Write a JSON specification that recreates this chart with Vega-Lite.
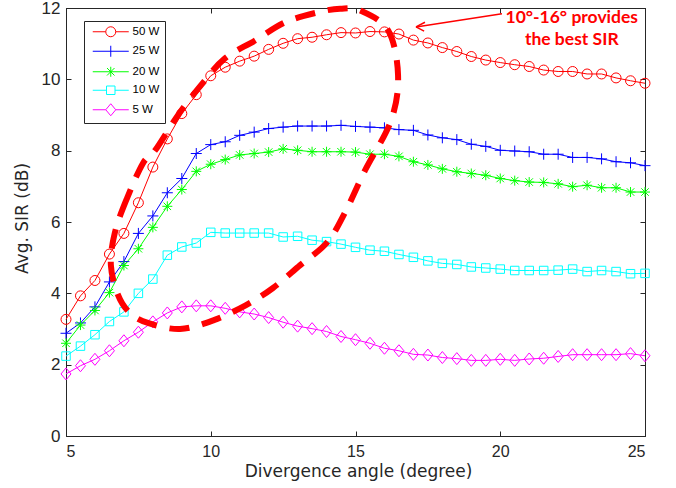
{
  "$schema": "https://vega.github.io/schema/vega-lite/v6.json",
  "width": 579,
  "height": 428,
  "autosize": "none",
  "padding": {"left": 66, "top": 8, "right": 31, "bottom": 52},
  "background": "white",
  "datasets": {
    "sir": [
      {"a": 5, "50 W": 3.27, "25 W": 2.88, "20 W": 2.60, "10 W": 2.24, "5 W": 1.74},
      {"a": 5.5, "50 W": 3.93, "25 W": 3.17, "20 W": 3.11, "10 W": 2.52, "5 W": 1.97},
      {"a": 6, "50 W": 4.36, "25 W": 3.62, "20 W": 3.52, "10 W": 2.84, "5 W": 2.15},
      {"a": 6.5, "50 W": 5.10, "25 W": 4.32, "20 W": 4.02, "10 W": 3.21, "5 W": 2.39},
      {"a": 7, "50 W": 5.68, "25 W": 4.89, "20 W": 4.78, "10 W": 3.48, "5 W": 2.67},
      {"a": 7.5, "50 W": 6.54, "25 W": 5.68, "20 W": 5.25, "10 W": 4.00, "5 W": 2.91},
      {"a": 8, "50 W": 7.54, "25 W": 6.17, "20 W": 5.85, "10 W": 4.40, "5 W": 3.20},
      {"a": 8.5, "50 W": 8.33, "25 W": 6.82, "20 W": 6.44, "10 W": 5.07, "5 W": 3.45},
      {"a": 9, "50 W": 9.04, "25 W": 7.22, "20 W": 6.91, "10 W": 5.30, "5 W": 3.62},
      {"a": 9.5, "50 W": 9.57, "25 W": 7.92, "20 W": 7.42, "10 W": 5.41, "5 W": 3.65},
      {"a": 10, "50 W": 10.10, "25 W": 8.17, "20 W": 7.62, "10 W": 5.71, "5 W": 3.65},
      {"a": 10.5, "50 W": 10.34, "25 W": 8.25, "20 W": 7.75, "10 W": 5.69, "5 W": 3.58},
      {"a": 11, "50 W": 10.51, "25 W": 8.43, "20 W": 7.88, "10 W": 5.69, "5 W": 3.48},
      {"a": 11.5, "50 W": 10.65, "25 W": 8.52, "20 W": 7.92, "10 W": 5.69, "5 W": 3.42},
      {"a": 12, "50 W": 10.84, "25 W": 8.62, "20 W": 7.96, "10 W": 5.69, "5 W": 3.32},
      {"a": 12.5, "50 W": 11.01, "25 W": 8.66, "20 W": 8.05, "10 W": 5.58, "5 W": 3.19},
      {"a": 13, "50 W": 11.14, "25 W": 8.69, "20 W": 8.01, "10 W": 5.60, "5 W": 3.08},
      {"a": 13.5, "50 W": 11.18, "25 W": 8.69, "20 W": 7.97, "10 W": 5.49, "5 W": 3.01},
      {"a": 14, "50 W": 11.25, "25 W": 8.69, "20 W": 7.97, "10 W": 5.45, "5 W": 2.93},
      {"a": 14.5, "50 W": 11.31, "25 W": 8.71, "20 W": 7.97, "10 W": 5.38, "5 W": 2.79},
      {"a": 15, "50 W": 11.30, "25 W": 8.68, "20 W": 7.96, "10 W": 5.29, "5 W": 2.70},
      {"a": 15.5, "50 W": 11.34, "25 W": 8.66, "20 W": 7.90, "10 W": 5.21, "5 W": 2.60},
      {"a": 16, "50 W": 11.33, "25 W": 8.64, "20 W": 7.90, "10 W": 5.18, "5 W": 2.46},
      {"a": 16.5, "50 W": 11.27, "25 W": 8.59, "20 W": 7.84, "10 W": 5.09, "5 W": 2.39},
      {"a": 17, "50 W": 11.10, "25 W": 8.57, "20 W": 7.69, "10 W": 5.01, "5 W": 2.29},
      {"a": 17.5, "50 W": 11.02, "25 W": 8.44, "20 W": 7.60, "10 W": 4.91, "5 W": 2.27},
      {"a": 18, "50 W": 10.89, "25 W": 8.36, "20 W": 7.49, "10 W": 4.84, "5 W": 2.20},
      {"a": 18.5, "50 W": 10.78, "25 W": 8.31, "20 W": 7.41, "10 W": 4.81, "5 W": 2.17},
      {"a": 19, "50 W": 10.64, "25 W": 8.18, "20 W": 7.36, "10 W": 4.74, "5 W": 2.12},
      {"a": 19.5, "50 W": 10.54, "25 W": 8.12, "20 W": 7.31, "10 W": 4.71, "5 W": 2.12},
      {"a": 20, "50 W": 10.47, "25 W": 8.01, "20 W": 7.22, "10 W": 4.68, "5 W": 2.15},
      {"a": 20.5, "50 W": 10.41, "25 W": 7.99, "20 W": 7.16, "10 W": 4.64, "5 W": 2.12},
      {"a": 21, "50 W": 10.36, "25 W": 7.97, "20 W": 7.12, "10 W": 4.64, "5 W": 2.16},
      {"a": 21.5, "50 W": 10.26, "25 W": 7.90, "20 W": 7.11, "10 W": 4.64, "5 W": 2.18},
      {"a": 22, "50 W": 10.22, "25 W": 7.90, "20 W": 7.07, "10 W": 4.65, "5 W": 2.23},
      {"a": 22.5, "50 W": 10.22, "25 W": 7.81, "20 W": 6.99, "10 W": 4.68, "5 W": 2.28},
      {"a": 23, "50 W": 10.15, "25 W": 7.81, "20 W": 7.03, "10 W": 4.61, "5 W": 2.28},
      {"a": 23.5, "50 W": 10.15, "25 W": 7.77, "20 W": 6.96, "10 W": 4.64, "5 W": 2.28},
      {"a": 24, "50 W": 10.04, "25 W": 7.69, "20 W": 6.96, "10 W": 4.61, "5 W": 2.28},
      {"a": 24.5, "50 W": 9.96, "25 W": 7.66, "20 W": 6.84, "10 W": 4.55, "5 W": 2.31},
      {"a": 25, "50 W": 9.89, "25 W": 7.58, "20 W": 6.84, "10 W": 4.56, "5 W": 2.25}
    ],
    "ell": [
      {"i": 0, "ex": 7.66, "ey": 7.65},
      {"i": 1, "ex": 7.11, "ey": 6.67},
      {"i": 2, "ex": 6.69, "ey": 5.71},
      {"i": 3, "ex": 6.55, "ey": 4.79},
      {"i": 4, "ex": 6.80, "ey": 3.95},
      {"i": 5, "ex": 7.21, "ey": 3.45},
      {"i": 6, "ex": 7.83, "ey": 3.17},
      {"i": 7, "ex": 8.94, "ey": 3.00},
      {"i": 8, "ex": 10.11, "ey": 3.25},
      {"i": 9, "ex": 11.22, "ey": 3.67},
      {"i": 10, "ex": 12.15, "ey": 4.15},
      {"i": 11, "ex": 13.09, "ey": 4.79},
      {"i": 12, "ex": 14.02, "ey": 5.43},
      {"i": 13, "ex": 14.64, "ey": 6.27},
      {"i": 14, "ex": 15.33, "ey": 7.45},
      {"i": 15, "ex": 16.23, "ey": 8.85},
      {"i": 16, "ex": 16.47, "ey": 10.11},
      {"i": 17, "ex": 16.13, "ey": 11.37},
      {"i": 18, "ex": 15.16, "ey": 11.93},
      {"i": 19, "ex": 14.47, "ey": 11.98},
      {"i": 20, "ex": 13.71, "ey": 11.88},
      {"i": 21, "ex": 12.57, "ey": 11.60},
      {"i": 22, "ex": 11.53, "ey": 11.09},
      {"i": 23, "ex": 10.49, "ey": 10.59},
      {"i": 24, "ex": 9.80, "ey": 9.97},
      {"i": 25, "ex": 8.94, "ey": 9.08},
      {"i": 26, "ex": 8.08, "ey": 8.01}
    ],
    "arrow": [
      {"x1": 20.06, "y1": 11.84, "x2": 17.09, "y2": 11.47},
      {"x1": 17.09, "y1": 11.47, "x2": 17.40, "y2": 11.60},
      {"x1": 17.09, "y1": 11.47, "x2": 17.37, "y2": 11.35}
    ],
    "note": [
      {"tx": 22.47, "ty": 11.59, "t": "10°-16° provides"},
      {"tx": 22.47, "ty": 10.95, "t": "the best SIR"}
    ]
  },
  "layer": [
    {
      "data": {"name": "sir"},
      "transform": [{"fold": ["50 W", "25 W", "20 W", "10 W", "5 W"], "as": ["s", "v"]}],
      "mark": {"type": "line", "strokeWidth": 1},
      "encoding": {
        "x": {"field": "a", "type": "quantitative", "scale": {"domain": [5, 25], "nice": false, "zero": false},
          "axis": {"orient": "bottom", "values": [5, 10, 15, 20, 25], "title": "Divergence angle (degree)", "labelPadding": 12, "labelFontSize": 16, "titleBaseline": "alphabetic", "titleY": 40, "titleX": 292}},
        "y": {"field": "v", "type": "quantitative", "scale": {"domain": [0, 12], "nice": false, "zero": false},
          "axis": {"orient": "left", "values": [0, 2, 4, 6, 8, 10, 12], "title": "Avg. SIR (dB)", "labelPadding": 11, "titleX": -44, "titleY": 210, "titleAngle": -90, "titleAlign": "center", "titleBaseline": "middle"}},
        "color": {"field": "s", "type": "nominal", "scale": {"domain": ["50 W", "25 W", "20 W", "10 W", "5 W"], "range": ["#FF0000", "#0000FF", "#00FF00", "#00FFFF", "#FF00FF"]}, "legend": null},
        "detail": {"field": "s"}
      }
    },
    {
      "data": {"name": "sir"},
      "transform": [{"fold": ["50 W", "25 W", "20 W", "10 W", "5 W"], "as": ["s", "v"]}],
      "mark": {"type": "point", "filled": false, "size": 100, "strokeWidth": 1, "opacity": 1},
      "encoding": {
        "x": {"field": "a", "type": "quantitative", "scale": {"domain": [5, 25], "nice": false, "zero": false},
          "axis": {"orient": "top", "values": [5, 10, 15, 20, 25], "labels": false, "title": null}},
        "y": {"field": "v", "type": "quantitative", "scale": {"domain": [0, 12], "nice": false, "zero": false},
          "axis": {"orient": "right", "values": [0, 2, 4, 6, 8, 10, 12], "labels": false, "title": null}},
        "color": {"field": "s", "type": "nominal", "scale": {"domain": ["50 W", "25 W", "20 W", "10 W", "5 W"], "range": ["#FF0000", "#0000FF", "#00FF00", "#00FFFF", "#FF00FF"]}, "legend": null},
        "shape": {"field": "s", "type": "nominal", "scale": {"domain": ["50 W", "25 W", "20 W", "10 W", "5 W"], "range": [
          "M1,0A1,1 0 1,1 -1,0A1,1 0 1,1 1,0",
          "M-1.1,0H1.1M0,-1.1V1.1",
          "M-1,0H1M0,-1V1M-0.75,-0.75L0.75,0.75M-0.75,0.75L0.75,-0.75",
          "M-0.85,-0.85H0.85V0.85H-0.85Z",
          "M0,-1.2L1,0L0,1.2L-1,0Z"
        ]}, "legend": null}
      }
    },
    {
      "data": {"name": "sir"},
      "transform": [{"fold": ["50 W", "25 W", "20 W", "10 W", "5 W"], "as": ["s", "v"]}, {"filter": "false"}],
      "mark": {"type": "point", "filled": false, "size": 100, "strokeWidth": 1, "opacity": 1},
      "encoding": {
        "x": {"field": "a", "type": "quantitative", "scale": {"domain": [5, 25], "nice": false, "zero": false}, "axis": null},
        "y": {"field": "v", "type": "quantitative", "scale": {"domain": [0, 12], "nice": false, "zero": false}, "axis": null},
        "color": {"field": "s", "type": "nominal", "scale": {"domain": ["50 W", "25 W", "20 W", "10 W", "5 W"], "range": ["#FF0000", "#0000FF", "#00FF00", "#00FFFF", "#FF00FF"]},
          "legend": {"title": null, "orient": "none", "legendX": 18, "legendY": 13, "padding": 5, "strokeColor": "#262626", "fillColor": "white", "symbolSize": 100, "symbolStrokeWidth": 1, "symbolOffset": 16, "labelOffset": 16, "labelFont": "Liberation Sans", "labelFontSize": 11.5, "labelColor": "#000000", "rowPadding": 4.5}},
        "shape": {"field": "s", "type": "nominal", "scale": {"domain": ["50 W", "25 W", "20 W", "10 W", "5 W"], "range": [
          "M-3.6,0H-1M1,0H3.6M1,0A1,1 0 1,1 -1,0A1,1 0 1,1 1,0",
          "M-3.6,0H3.6M0,-1.1V1.1",
          "M-3.6,0H3.6M0,-1V1M-0.75,-0.75L0.75,0.75M-0.75,0.75L0.75,-0.75",
          "M-3.6,0H-0.85M0.85,0H3.6M-0.85,-0.85H0.85V0.85H-0.85Z",
          "M-3.6,0H-1M1,0H3.6M0,-1.2L1,0L0,1.2L-1,0Z"
        ]},
          "legend": {"title": null, "orient": "none", "legendX": 18, "legendY": 13, "padding": 5, "strokeColor": "#262626", "fillColor": "white", "symbolSize": 100, "symbolStrokeWidth": 1, "symbolOffset": 16, "labelOffset": 16, "labelFont": "Liberation Sans", "labelFontSize": 11.5, "labelColor": "#000000", "rowPadding": 4.5}}
      }
    },
    {
      "data": {"name": "ell"},
      "mark": {"type": "line", "color": "#FF0000", "strokeWidth": 6, "strokeDash": [20, 13], "interpolate": "cardinal-closed"},
      "encoding": {
        "x": {"field": "ex", "type": "quantitative", "scale": {"domain": [5, 25], "nice": false, "zero": false}, "axis": null},
        "y": {"field": "ey", "type": "quantitative", "scale": {"domain": [0, 12], "nice": false, "zero": false}, "axis": null},
        "order": {"field": "i", "type": "quantitative"}
      }
    },
    {
      "data": {"name": "arrow"},
      "mark": {"type": "rule", "color": "#FF0000", "strokeWidth": 1.5},
      "encoding": {
        "x": {"field": "x1", "type": "quantitative", "scale": {"domain": [5, 25], "nice": false, "zero": false}, "axis": null},
        "y": {"field": "y1", "type": "quantitative", "scale": {"domain": [0, 12], "nice": false, "zero": false}, "axis": null},
        "x2": {"field": "x2"},
        "y2": {"field": "y2"}
      }
    },
    {
      "data": {"name": "note"},
      "mark": {"type": "text", "color": "#FF0000", "font": "Lato", "fontWeight": "bold", "fontSize": 17.5, "align": "center", "baseline": "alphabetic"},
      "encoding": {
        "x": {"field": "tx", "type": "quantitative", "scale": {"domain": [5, 25], "nice": false, "zero": false}, "axis": null},
        "y": {"field": "ty", "type": "quantitative", "scale": {"domain": [0, 12], "nice": false, "zero": false}, "axis": null},
        "text": {"field": "t"}
      }
    }
  ],
  "resolve": {"axis": {"x": "independent", "y": "independent"}, "scale": {"color": "independent", "shape": "independent"}},
  "config": {
    "view": {"stroke": "#262626", "strokeWidth": 1},
    "axis": {"grid": false, "domainColor": "#262626", "tickColor": "#262626", "labelColor": "#262626", "titleColor": "#262626", "labelFont": "Liberation Sans", "labelFontSize": 17, "titleFont": "DejaVu Sans", "titleFontSize": 17, "titleFontWeight": "normal", "tickSize": -5, "domainWidth": 1, "tickWidth": 1}
  }
}
